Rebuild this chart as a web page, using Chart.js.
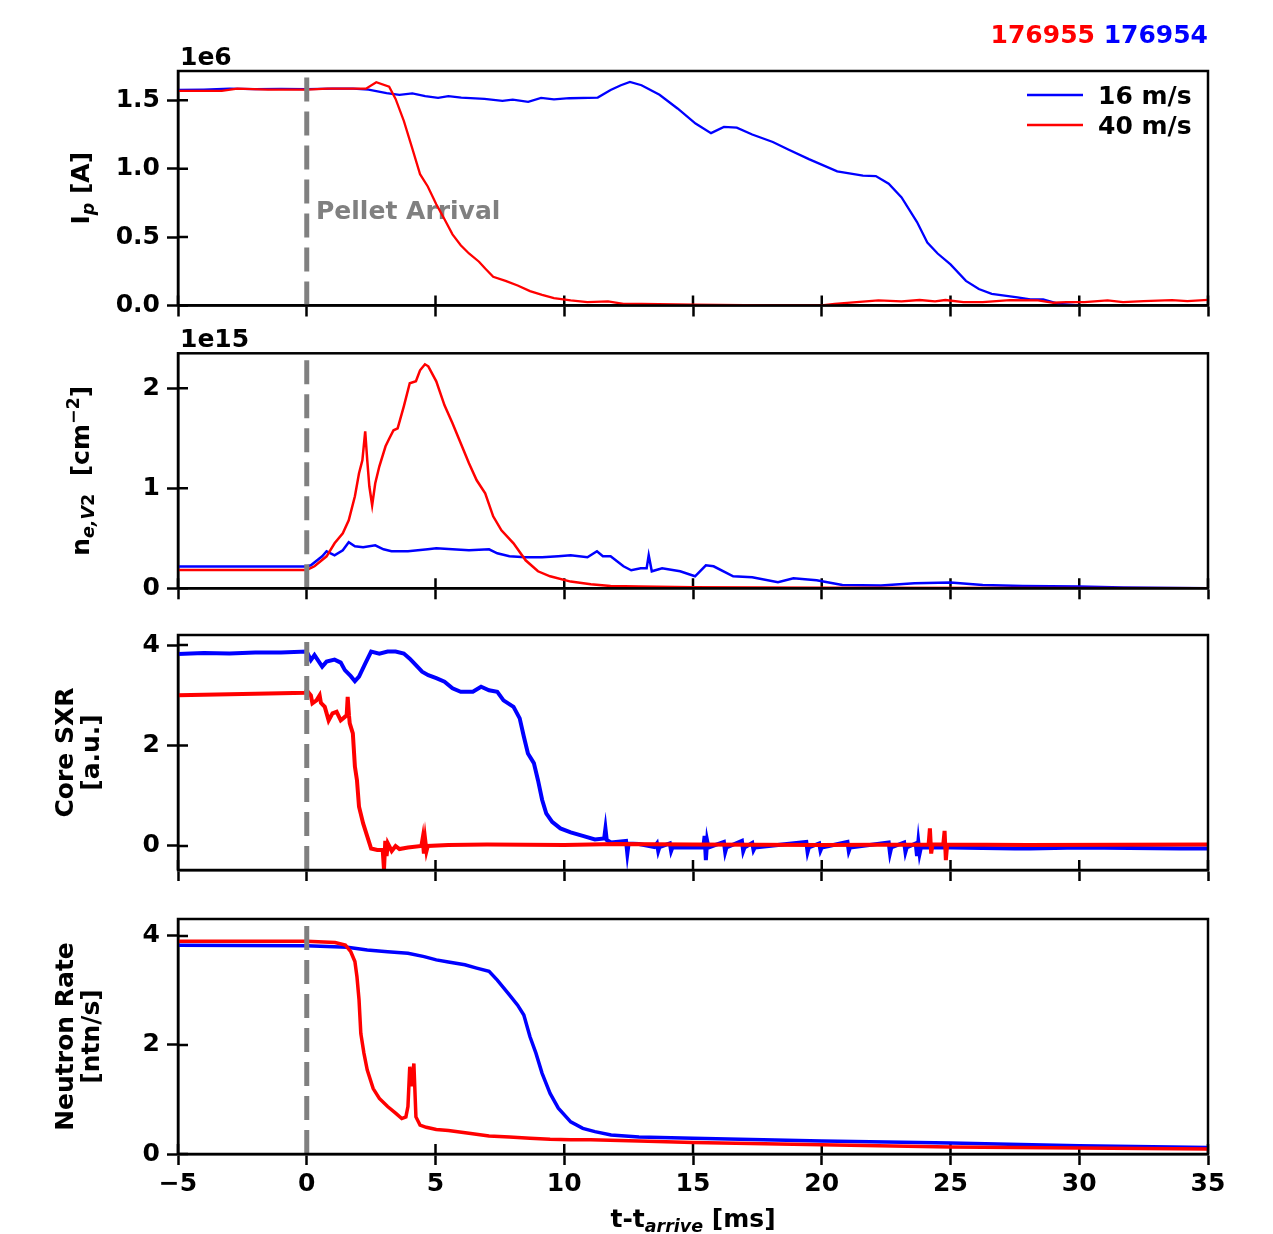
<!DOCTYPE html>
<html lang="en">
<head>
<meta charset="UTF-8">
<title>Pellet arrival, shots 176955 / 176954</title>
<script src="https://cdn.jsdelivr.net/npm/chart.js"></script>
<style>
  body { margin: 0; background: #fff; }
  #wrap { position: relative; width: 1273px; height: 1234px; }
  #wrap canvas { position: absolute; left: 0; }
</style>
</head>
<body>
<div id="wrap">
  <canvas id="ipChart" width="1273" height="318" style="top:0px"></canvas>
  <canvas id="neChart" width="1273" height="294" style="top:318px"></canvas>
  <canvas id="sxrChart" width="1273" height="282" style="top:612px"></canvas>
  <canvas id="neuChart" width="1273" height="340" style="top:894px"></canvas>
</div>
<script>
// ---- data, [t (ms), value] ----
const xTicks = [-5, 0, 5, 10, 15, 20, 25, 30, 35];
const ipTicks = [0, 0.5, 1.0, 1.5];
const neTicks = [0, 1, 2];
const sxrTicks = [0, 2, 4];
const neuTicks = [0, 2, 4];

// plasma current, units of 1e6 A
const ip16 = [[-5,1.575],[-4,1.578],[-3,1.585],[-2,1.582],[-1,1.583],[0,1.582],[1,1.585],[1.8,1.585],[2.4,1.578],[3.1,1.553],[3.6,1.54],[4.1,1.55],[4.6,1.53],[5.1,1.517],[5.5,1.53],[6,1.52],[6.9,1.51],[7.6,1.495],[8.0,1.505],[8.6,1.488],[9.1,1.517],[9.6,1.507],[10.2,1.515],[11.3,1.52],[11.8,1.575],[12.2,1.61],[12.55,1.634],[13.0,1.61],[13.7,1.54],[14.4,1.44],[15.1,1.33],[15.7,1.26],[16.2,1.305],[16.7,1.30],[17.3,1.25],[18.1,1.195],[18.7,1.14],[19.5,1.07],[20.6,0.98],[21.6,0.95],[22.1,0.946],[22.6,0.89],[23.1,0.79],[23.7,0.61],[24.1,0.46],[24.5,0.38],[25.0,0.30],[25.6,0.18],[26.1,0.12],[26.6,0.085],[27.6,0.06],[28.1,0.044],[28.6,0.044],[29.2,0.012],[30.0,0.0]];
const ip40 = [[-5,1.568],[-3.3,1.568],[-2.7,1.585],[-1.5,1.578],[0,1.578],[0.8,1.585],[2.3,1.585],[2.7,1.632],[3.2,1.6],[3.45,1.51],[3.77,1.35],[4.08,1.16],[4.4,0.96],[4.7,0.87],[5.03,0.74],[5.35,0.63],[5.66,0.52],[5.98,0.44],[6.3,0.38],[6.69,0.32],[6.93,0.27],[7.24,0.21],[7.72,0.18],[8.19,0.146],[8.67,0.105],[9.14,0.078],[9.6,0.054],[10.25,0.037],[10.9,0.024],[11.7,0.03],[12.3,0.012],[13,0.012],[15,0.007],[18,0.0],[20,0.0],[20.5,0.012],[22.2,0.037],[23.1,0.03],[23.8,0.04],[24.4,0.03],[24.8,0.04],[25.5,0.025],[26.25,0.025],[27.3,0.04],[28.4,0.037],[29,0.02],[29.5,0.025],[30.2,0.025],[31.1,0.037],[31.7,0.025],[32.5,0.032],[33.6,0.04],[34.2,0.032],[35,0.041]];

// line integrated density, units of 1e15 cm^-2
const ne16 = [[-5,0.217],[-0.05,0.217],[0.16,0.23],[0.6,0.32],[0.77,0.37],[1.08,0.33],[1.4,0.38],[1.63,0.46],[1.87,0.42],[2.19,0.41],[2.66,0.43],[2.98,0.39],[3.29,0.37],[3.93,0.37],[4.7,0.39],[5.03,0.40],[5.66,0.39],[6.3,0.38],[7.08,0.39],[7.4,0.35],[7.87,0.32],[8.5,0.31],[9.14,0.31],[9.77,0.32],[10.25,0.33],[10.9,0.31],[11.27,0.37],[11.5,0.32],[11.8,0.32],[12.3,0.22],[12.6,0.18],[12.97,0.2],[13.2,0.2],[13.28,0.33],[13.4,0.17],[13.8,0.2],[14.5,0.17],[15.08,0.12],[15.5,0.23],[15.8,0.22],[16.56,0.12],[17.3,0.11],[18.3,0.06],[18.9,0.10],[19.8,0.08],[20.8,0.033],[22.3,0.027],[23.6,0.05],[25,0.057],[26.25,0.033],[27.8,0.023],[30,0.017],[31.7,0.007],[35,0.0]];
const ne40 = [[-5,0.183],[0,0.183],[0.3,0.22],[0.77,0.32],[1.08,0.45],[1.4,0.55],[1.63,0.68],[1.87,0.92],[2.03,1.15],[2.16,1.28],[2.27,1.57],[2.35,1.28],[2.43,1.02],[2.54,0.83],[2.66,1.05],[2.82,1.22],[3.06,1.42],[3.21,1.5],[3.37,1.58],[3.53,1.6],[3.77,1.82],[4.0,2.05],[4.24,2.07],[4.4,2.18],[4.59,2.24],[4.72,2.22],[5.03,2.07],[5.35,1.83],[5.66,1.65],[5.98,1.45],[6.3,1.25],[6.6,1.08],[6.93,0.95],[7.24,0.72],[7.56,0.58],[8.03,0.45],[8.5,0.28],[8.98,0.17],[9.45,0.12],[10.25,0.067],[11.03,0.04],[11.8,0.023],[12.9,0.017],[15,0.01],[20,0.005],[35,0.0]];

// core soft x-ray, a.u.
const sxr16 = [[-5,3.82],[-4,3.84],[-3,3.83],[-2,3.85],[-1,3.85],[0,3.87],[0.16,3.7],[0.3,3.8],[0.47,3.67],[0.6,3.57],[0.77,3.67],[1.08,3.71],[1.32,3.65],[1.48,3.5],[1.71,3.38],[1.87,3.28],[2.03,3.37],[2.27,3.63],[2.5,3.87],[2.82,3.83],[3.14,3.87],[3.45,3.87],[3.77,3.83],[4.0,3.73],[4.24,3.6],[4.48,3.47],[4.72,3.4],[5.03,3.34],[5.35,3.27],[5.66,3.14],[5.98,3.07],[6.45,3.07],[6.77,3.17],[7.08,3.1],[7.4,3.07],[7.64,2.9],[8.03,2.77],[8.27,2.54],[8.43,2.18],[8.59,1.84],[8.82,1.65],[8.98,1.31],[9.14,0.92],[9.3,0.65],[9.53,0.48],[9.85,0.35],[10.25,0.27],[10.72,0.2],[11.19,0.13],[11.55,0.15],[11.6,0.35],[11.65,0.12],[11.82,0.07],[12.4,0.1],[12.45,-0.15],[12.5,0.05],[12.9,0.04],[13.5,-0.02],[13.6,0.05],[13.65,-0.1],[13.7,-0.02],[14.1,0.05],[14.15,-0.1],[14.2,-0.03],[15.4,-0.03],[15.45,0.2],[15.5,-0.28],[15.55,0.1],[15.6,-0.03],[16.2,0.08],[16.25,-0.12],[16.3,-0.03],[16.9,0.1],[16.95,-0.1],[17.0,-0.03],[17.3,0.06],[17.35,-0.08],[17.4,-0.03],[19.4,0.08],[19.45,-0.12],[19.5,-0.03],[19.9,0.05],[19.95,-0.09],[20.0,-0.03],[21.0,0.08],[21.05,-0.1],[21.1,-0.03],[22.6,0.07],[22.65,-0.14],[22.7,-0.03],[23.2,0.07],[23.25,-0.12],[23.3,-0.03],[23.65,0.05],[23.7,-0.2],[23.75,0.08],[23.8,-0.15],[23.85,-0.03],[25,-0.03],[27.5,-0.05],[28.1,-0.05],[30,-0.03],[33.9,-0.05],[35,-0.05]];
const sxr40 = [[-5,3.0],[-4,3.01],[-3,3.02],[-2,3.03],[-1,3.04],[-0.05,3.05],[0,3.1],[0.16,3.0],[0.22,2.84],[0.38,2.9],[0.5,3.0],[0.55,2.85],[0.7,2.77],[0.85,2.5],[1.0,2.64],[1.16,2.67],[1.32,2.5],[1.48,2.57],[1.55,2.6],[1.59,2.97],[1.64,2.6],[1.67,2.44],[1.79,2.24],[1.87,1.58],[1.95,1.31],[2.03,0.78],[2.19,0.45],[2.35,0.19],[2.5,-0.05],[2.74,-0.08],[2.95,-0.08],[3.0,-0.47],[3.05,0.1],[3.1,-0.2],[3.15,0.05],[3.3,-0.1],[3.45,0.0],[3.6,-0.06],[3.93,-0.03],[4.45,0.0],[4.5,0.15],[4.55,-0.15],[4.6,0.12],[4.65,-0.1],[4.7,0.0],[5.5,0.02],[7,0.03],[10,0.02],[12,0.04],[15,0.03],[20,0.02],[24.15,0.03],[24.2,0.35],[24.25,-0.15],[24.3,0.03],[24.72,0.03],[24.77,0.3],[24.82,-0.28],[24.87,0.03],[28,0.02],[35,0.03]];

// neutron rate
const neu16 = [[-5,3.83],[0,3.82],[1.58,3.79],[2.35,3.74],[3.14,3.71],[3.93,3.68],[4.56,3.62],[5.03,3.56],[5.5,3.52],[6.14,3.47],[6.6,3.41],[7.08,3.35],[7.4,3.19],[7.87,2.92],[8.19,2.73],[8.43,2.55],[8.67,2.15],[8.9,1.85],[9.14,1.48],[9.45,1.11],[9.77,0.84],[10.25,0.59],[10.72,0.47],[11.19,0.41],[11.82,0.35],[12.9,0.31],[15,0.29],[20,0.24],[25,0.2],[30,0.15],[35,0.12]];
const neu40 = [[-5,3.9],[0,3.9],[1.1,3.88],[1.5,3.83],[1.71,3.71],[1.87,3.53],[1.95,3.25],[2.03,2.83],[2.1,2.21],[2.22,1.85],[2.35,1.54],[2.58,1.2],[2.82,1.02],[3.14,0.87],[3.45,0.75],[3.69,0.65],[3.85,0.68],[3.93,0.87],[4.0,1.6],[4.08,1.24],[4.16,1.66],[4.24,0.68],[4.4,0.53],[4.64,0.49],[5.03,0.45],[5.5,0.43],[6.3,0.38],[7.08,0.33],[7.87,0.31],[8.67,0.29],[9.45,0.27],[10.25,0.26],[11.03,0.26],[12.9,0.24],[15,0.21],[20,0.17],[25,0.13],[30,0.11],[35,0.09]];

// ---- drawing ----
const BLUE = '#0000ff', RED = '#ff0000', GRAY = '#808080';
const PLOT_LEFT = 178, PLOT_RIGHT = 1208, PAGE_W = 1273;
const FS = 25;

Chart.defaults.font.family = 'DejaVu Sans';
Chart.defaults.font.weight = 'bold';
Chart.defaults.font.size = FS;
Chart.defaults.color = '#000';

function pts(arr) { return arr.map(p => ({x: p[0], y: p[1]})); }

function fontStr(s) {
  return (s.italic ? 'italic ' : '') + 'bold ' + (s.size || FS) + 'px "DejaVu Sans"';
}

// text made of runs (for sub/superscripts), centred on cx,cy
function drawRich(ctx, segs, cx, cy, rotate) {
  ctx.save();
  ctx.translate(cx, cy);
  if (rotate) ctx.rotate(-Math.PI / 2);
  let total = 0;
  segs.forEach(s => { ctx.font = fontStr(s); total += ctx.measureText(s.t).width; });
  let x = -total / 2;
  ctx.textAlign = 'left';
  ctx.textBaseline = 'alphabetic';
  segs.forEach(s => {
    ctx.font = fontStr(s);
    ctx.fillStyle = s.color || '#000';
    ctx.fillText(s.t, x, 9 + (s.dy || 0));
    x += ctx.measureText(s.t).width;
  });
  ctx.restore();
}

// inner tick halves go under the data, the frame goes on top
const frame = {
  id: 'frame',
  beforeDatasetsDraw(chart) {
    const {ctx, chartArea: a, scales: {x, y}} = chart;
    ctx.save();
    ctx.strokeStyle = '#000';
    ctx.lineWidth = 2.5;
    ctx.beginPath();
    x.ticks.forEach(t => { const px = x.getPixelForValue(t.value); ctx.moveTo(px, a.bottom); ctx.lineTo(px, a.bottom - 10); });
    y.ticks.forEach(t => { const py = y.getPixelForValue(t.value); ctx.moveTo(a.left, py); ctx.lineTo(a.left + 10, py); });
    ctx.stroke();
    ctx.restore();
  },
  afterDatasetsDraw(chart) {
    const {ctx, chartArea: a} = chart;
    ctx.save();
    ctx.strokeStyle = '#000';
    ctx.lineWidth = 2.5;
    ctx.strokeRect(a.left, a.top, a.right - a.left, a.bottom - a.top);
    ctx.restore();
  }
};

function makePanel(p) {
  const plotH = p.plotBottom - p.plotTop;
  const datasets = [
    {data: [{x: 0, y: p.yMin}, {x: 0, y: p.yMax}], borderColor: GRAY, borderWidth: 5, borderDash: [24, 10], order: 0},
    {label: '16 m/s', data: pts(p.blue), borderColor: BLUE, borderWidth: p.lw, order: 2},
    {label: '40 m/s', data: pts(p.red), borderColor: RED, borderWidth: p.lw, order: 1}
  ];
  datasets.forEach(d => { d.pointRadius = 0; d.tension = 0; d.fill = false; });

  const titles = {
    id: 'titles',
    beforeDatasetsDraw(chart) { if (p.under) p.under(chart); },
    afterDraw(chart) {
      const {ctx, chartArea: a} = chart;
      const cy = (a.top + a.bottom) / 2;
      if (p.yTitle.length === 1) drawRich(ctx, p.yTitle[0], 80, cy, true);
      else { drawRich(ctx, p.yTitle[0], 64, cy, true); drawRich(ctx, p.yTitle[1], 90, cy, true); }
      if (p.offsetText) {
        ctx.save();
        ctx.font = 'bold ' + FS + 'px "DejaVu Sans"';
        ctx.fillStyle = '#000';
        ctx.textAlign = 'left';
        ctx.textBaseline = 'alphabetic';
        ctx.fillText(p.offsetText, a.left + 2, a.top - 6);
        ctx.restore();
      }
      if (p.over) p.over(chart);
    }
  };

  return new Chart(document.getElementById(p.id), {
    type: 'line',
    data: {datasets},
    options: {
      responsive: false,
      animation: false,
      events: [],
      layout: {autoPadding: false, padding: {left: 0, right: PAGE_W - PLOT_RIGHT, top: p.plotTop - p.top, bottom: 0}},
      plugins: {legend: {display: false}, tooltip: {enabled: false}},
      scales: {
        x: {
          type: 'linear', min: -5, max: 35,
          afterBuildTicks: s => { s.ticks = xTicks.map(v => ({value: v})); },
          afterFit: s => { s.height = p.height - (p.plotBottom - p.top); s.paddingLeft = 0; s.paddingRight = 0; },
          ticks: {
            padding: 4, maxRotation: 0, autoSkip: false,
            callback: v => p.xLabels ? (v < 0 ? '\u2212' + (-v) : String(v)) : ''
          },
          grid: {drawOnChartArea: false, drawTicks: true, tickLength: 11, tickWidth: 2.5, tickColor: '#000'},
          border: {display: true, color: '#000', width: 2.5}
        },
        y: {
          type: 'linear', min: p.yMin, max: p.yMax,
          afterBuildTicks: s => { s.ticks = p.yTicks.map(v => ({value: v})); },
          afterFit: s => { s.width = PLOT_LEFT; s.paddingTop = 0; s.paddingBottom = 0; },
          ticks: {padding: 7, autoSkip: false, callback: p.yFmt},
          grid: {drawOnChartArea: false, drawTicks: true, tickLength: 11, tickWidth: 2.5, tickColor: '#000'},
          border: {display: true, color: '#000', width: 2.5}
        }
      }
    },
    plugins: [frame, titles]
  });
}

const sub = (t, italic) => ({t, size: 17.5, italic, dy: 5});

makePanel({
  id: 'ipChart', top: 0, height: 318, plotTop: 71, plotBottom: 305.5,
  yMin: 0, yMax: 1.714, yTicks: ipTicks, yFmt: v => v.toFixed(1),
  blue: ip16, red: ip40, lw: 2.3, xLabels: false, offsetText: '1e6',
  yTitle: [[{t: 'I'}, sub('p', true), {t: ' [A]'}]],
  under(chart) {
    const {ctx, scales: {x, y}} = chart;
    ctx.save();
    ctx.font = 'bold ' + FS + 'px "DejaVu Sans"';
    ctx.fillStyle = GRAY;
    ctx.textAlign = 'left';
    ctx.textBaseline = 'alphabetic';
    ctx.fillText('Pellet Arrival', x.getPixelForValue(0.36), y.getPixelForValue(0.70) + 9);
    ctx.restore();
  },
  over(chart) {
    const {ctx, chartArea: a} = chart;
    ctx.save();
    ctx.font = 'bold ' + FS + 'px "DejaVu Sans"';
    ctx.textBaseline = 'alphabetic';
    ctx.textAlign = 'right';
    ctx.fillStyle = BLUE;
    ctx.fillText('176954', a.right, 43);
    const wBlue = ctx.measureText('176954').width + ctx.measureText(' ').width;
    ctx.fillStyle = RED;
    ctx.fillText('176955', a.right - wBlue, 43);
    // legend
    const rows = [['16 m/s', BLUE, 95], ['40 m/s', RED, 125]];
    ctx.lineWidth = 2.5;
    ctx.textAlign = 'left';
    rows.forEach(([label, col, yy]) => {
      ctx.strokeStyle = col;
      ctx.beginPath();
      ctx.moveTo(a.right - 181, yy);
      ctx.lineTo(a.right - 125, yy);
      ctx.stroke();
      ctx.fillStyle = '#000';
      ctx.fillText(label, a.right - 110, yy + 9);
    });
    ctx.restore();
  }
});

makePanel({
  id: 'neChart', top: 318, height: 294, plotTop: 353.3, plotBottom: 588.3,
  yMin: 0, yMax: 2.35, yTicks: neTicks, yFmt: v => String(v),
  blue: ne16, red: ne40, lw: 2.5, xLabels: false, offsetText: '1e15',
  yTitle: [[{t: 'n'}, sub('e,', true), sub('V', true), sub('2', false), {t: '  [cm'}, {t: '\u22122', size: 17.5, dy: -10}, {t: ']'}]]
});

makePanel({
  id: 'sxrChart', top: 612, height: 282, plotTop: 635, plotBottom: 870,
  yMin: -0.478, yMax: 4.2, yTicks: sxrTicks, yFmt: v => String(v),
  blue: sxr16, red: sxr40, lw: 4, xLabels: false,
  yTitle: [[{t: 'Core SXR'}], [{t: '[a.u.]'}]]
});

makePanel({
  id: 'neuChart', top: 894, height: 340, plotTop: 919, plotBottom: 1154,
  yMin: 0, yMax: 4.31, yTicks: neuTicks, yFmt: v => String(v),
  blue: neu16, red: neu40, lw: 3.5, xLabels: true,
  yTitle: [[{t: 'Neutron Rate'}], [{t: '[ntn/s]'}]],
  over(chart) {
    const a = chart.chartArea;
    drawRich(chart.ctx, [{t: 't-t'}, sub('arrive', true), {t: ' [ms]'}], (a.left + a.right) / 2, 1218 - 894, false);
  }
});
</script>
</body>
</html>
